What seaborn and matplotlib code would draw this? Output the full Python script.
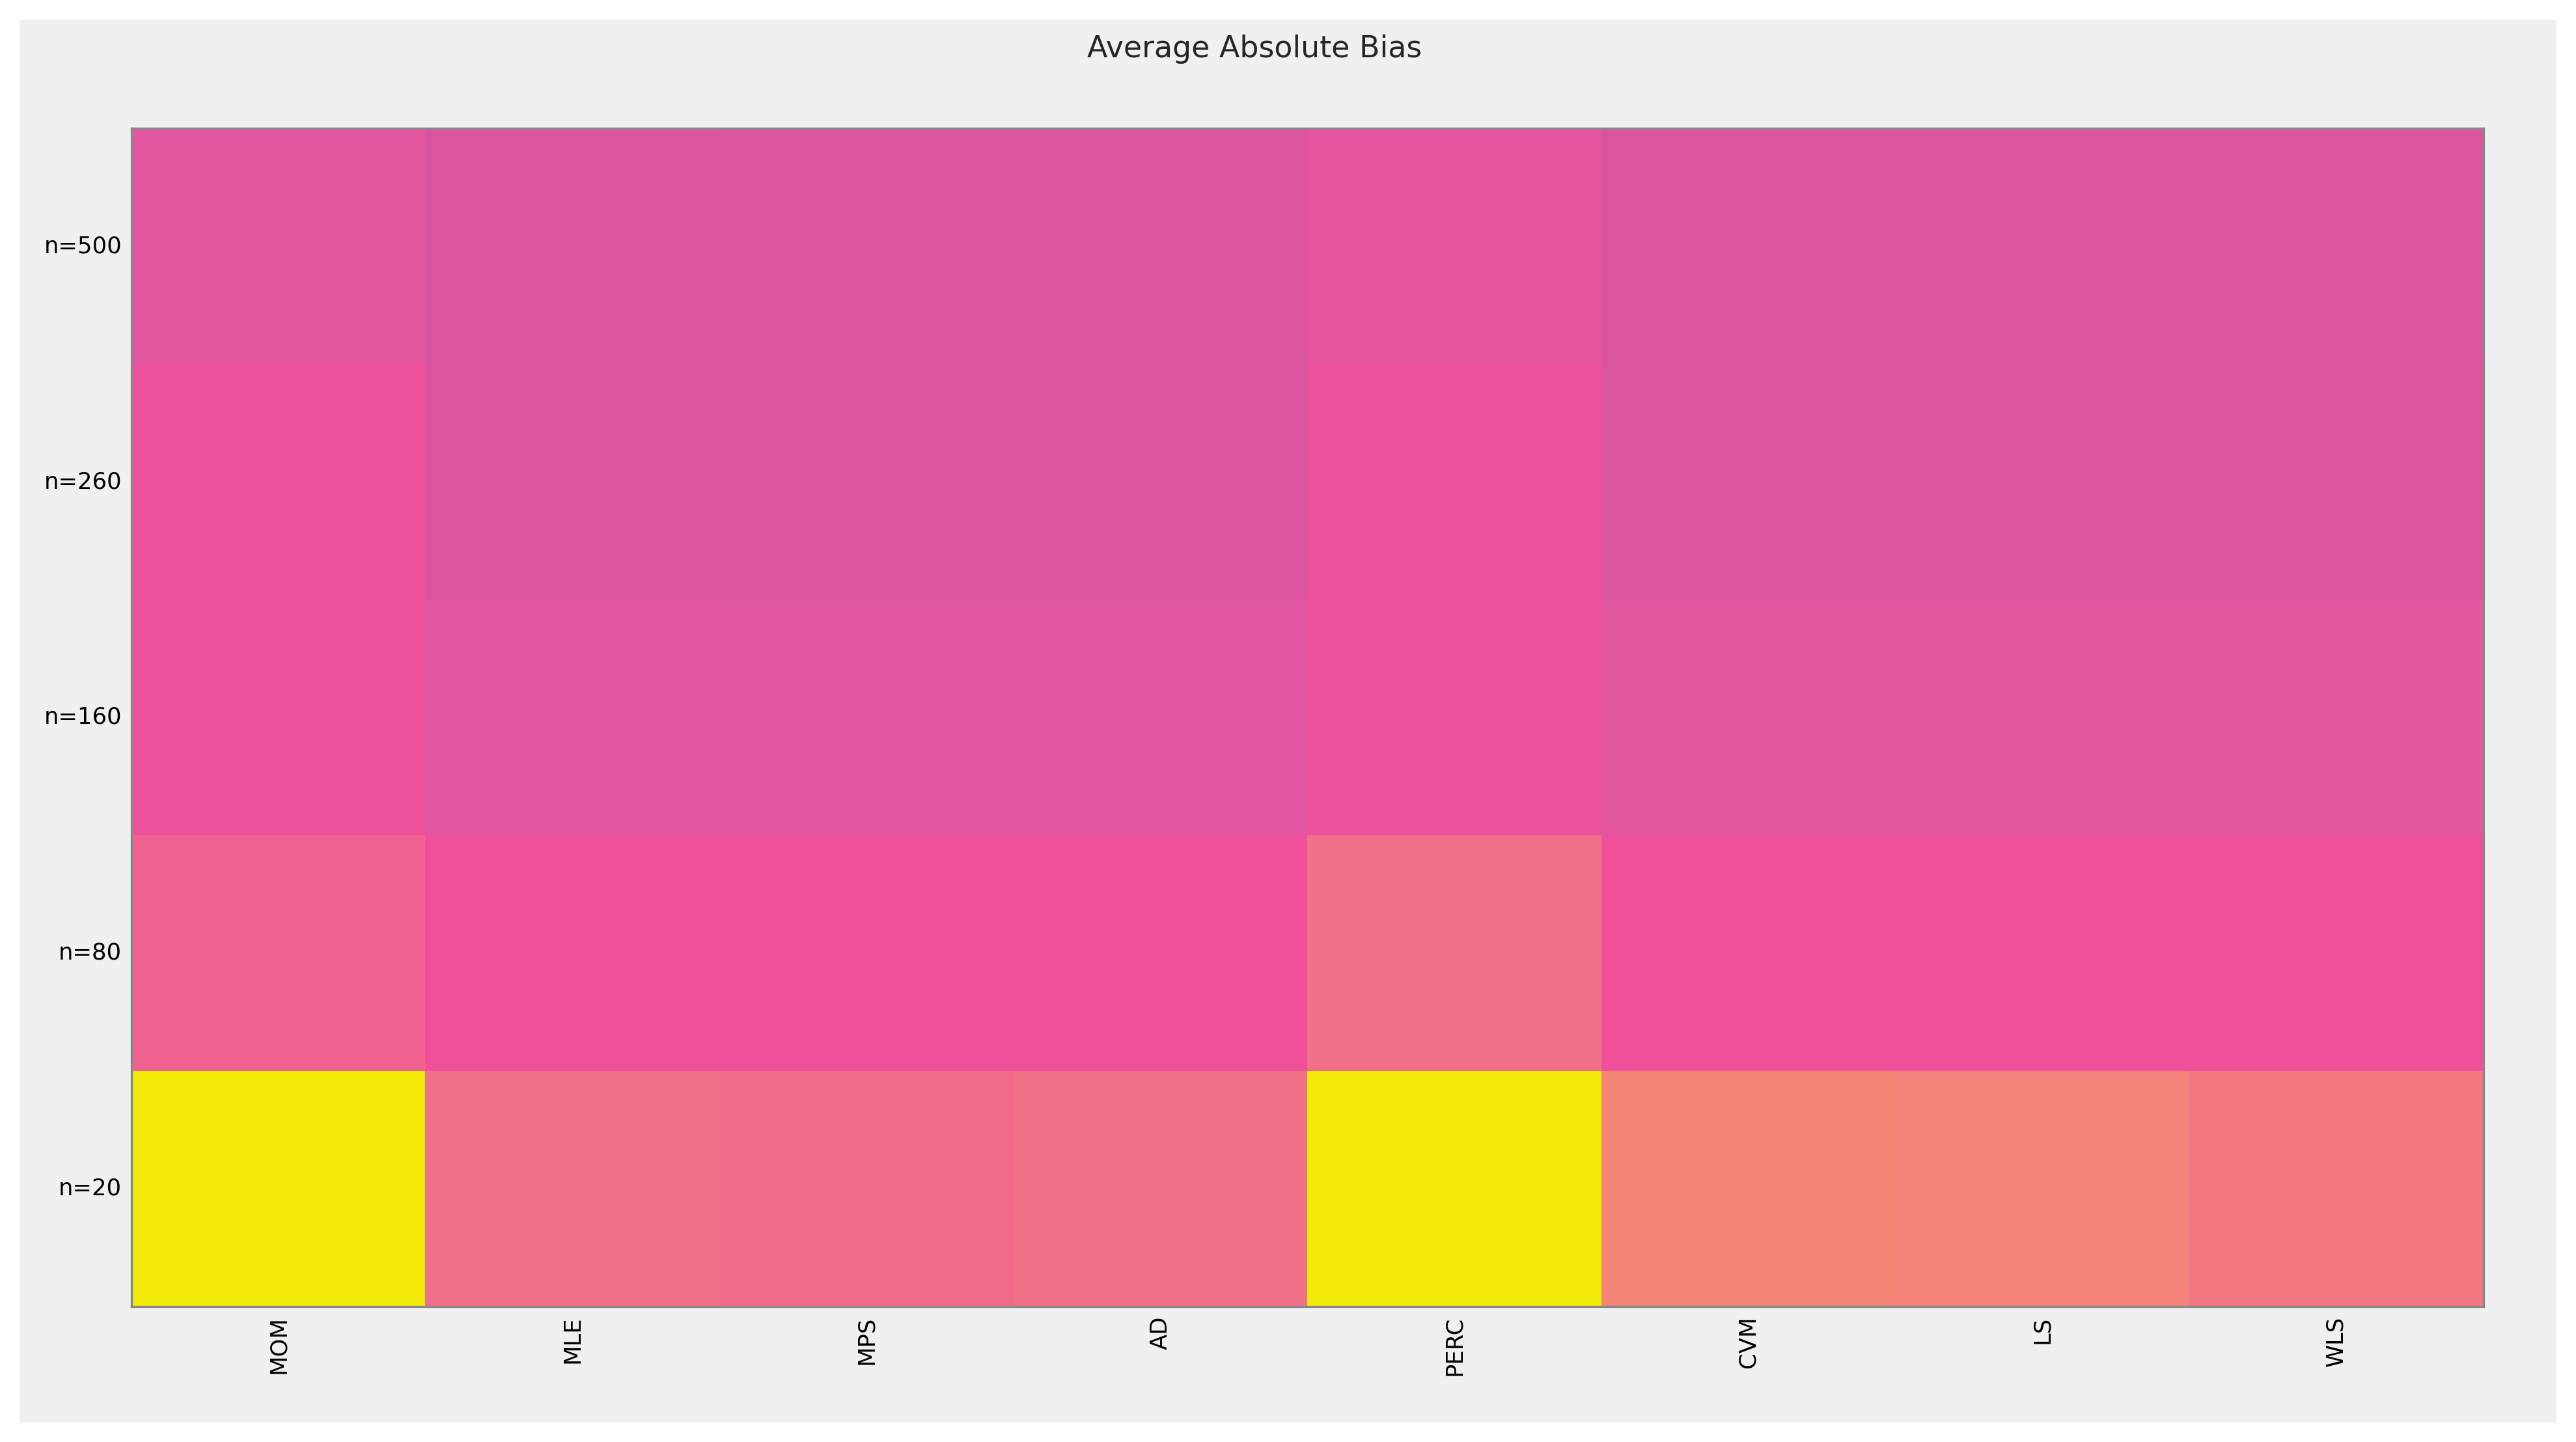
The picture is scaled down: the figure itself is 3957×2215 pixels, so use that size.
import matplotlib
matplotlib.use('Agg')
import matplotlib.pyplot as plt
from matplotlib.colors import LinearSegmentedColormap
from matplotlib.patches import Rectangle
import seaborn as sns
import pandas as pd

methods = ['MOM', 'MLE', 'MPS', 'AD', 'PERC', 'CVM', 'LS', 'WLS']
sizes = ['n=500', 'n=260', 'n=160', 'n=80', 'n=20']

# average absolute bias (estimated from colour), rows follow `sizes`
bias_500 = [0.04, 0.01, 0.015, 0.015, 0.05, 0.01, 0.01, 0.01]
bias_260 = [0.09, 0.01, 0.02, 0.02, 0.09, 0.015, 0.015, 0.015]
bias_160 = [0.09, 0.03, 0.03, 0.03, 0.09, 0.04, 0.04, 0.04]
bias_80 = [0.16, 0.10, 0.10, 0.10, 0.20, 0.10, 0.10, 0.10]
bias_20 = [1.00, 0.20, 0.19, 0.20, 1.00, 0.30, 0.29, 0.24]

df = pd.DataFrame([bias_500, bias_260, bias_160, bias_80, bias_20],
                  index=sizes, columns=methods)

cmap = LinearSegmentedColormap.from_list('bias', [
    (0.0, '#D8559F'), (0.04, '#E356A0'), (0.1, '#F0509A'),
    (0.2, '#F07088'), (0.3, '#F48577'), (1.0, '#F5EB0A')])

sns.set_theme(style='white')
fig = plt.figure(figsize=(3957 / 300, 2215 / 300), dpi=300, facecolor='white')

# grey panel behind the heatmap
bg = fig.add_axes([0, 0, 1, 1], zorder=-10)
bg.axis('off')
bg.add_patch(Rectangle((12 / 1568, 12 / 880), 1544 / 1568, 856 / 880,
                       transform=bg.transAxes, facecolor='#F0F0F0', edgecolor='none'))

ax = fig.add_axes([0.051, 0.094, 0.913, 0.817])
sns.heatmap(df, ax=ax, cmap=cmap, vmin=0, vmax=1, cbar=False)

for s in ax.spines.values():
    s.set_visible(True)
    s.set_color('#888888')
    s.set_linewidth(0.8)
ax.tick_params(length=0, labelsize=8.5, colors='black')
ax.set_xticklabels(methods, rotation=90)
ax.set_yticklabels(sizes, rotation=0)
fig.text(0.487, 0.966, 'Average Absolute Bias', ha='center', va='center', fontsize=11)

fig.savefig('out.png', dpi=300, facecolor='white')
